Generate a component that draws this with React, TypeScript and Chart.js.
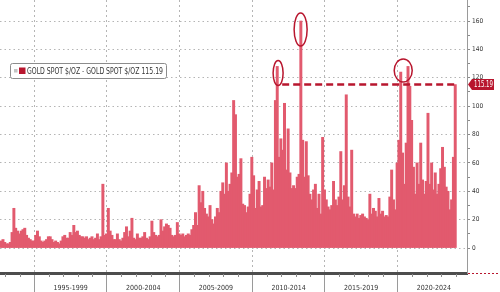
import React, { useEffect, useRef } from 'react';
import { Chart, registerables } from 'chart.js';

Chart.register(...registerables);

const SERIES_NAME = 'GOLD SPOT $/OZ - GOLD SPOT $/OZ';
const START_YEAR = 1992.72;
const STEP_YEARS = 0.125;

const values1992_1994 = [5, 6, 4, 3, 3, 4, 11, 28, 14, 12, 10, 12, 13, 14, 9, 7, 6, 5, 5];
const values1995_1999 = [
  9, 12, 8, 5, 4, 5, 6, 8, 8, 6, 4, 5, 4, 3, 5, 8, 9, 7, 7, 11,
  9, 16, 11, 12, 9, 8, 8, 7, 8, 6, 7, 8, 6, 7, 10, 6, 8, 45, 9, 10,
];
const values2000_2004 = [
  28, 12, 9, 6, 6, 10, 6, 5, 7, 11, 15, 8, 12, 21, 7, 6, 10, 7, 7, 8,
  11, 7, 6, 8, 19, 11, 9, 8, 9, 20, 12, 15, 17, 16, 14, 9, 8, 9, 18, 10,
];
const values2005_2009 = [
  9, 10, 8, 9, 10, 9, 13, 16, 25, 16, 44, 32, 40, 28, 24, 22, 30, 20, 17, 22,
  28, 25, 40, 46, 38, 60, 40, 45, 53, 104, 94, 50, 52, 63, 31, 30, 25, 29, 38, 64,
];
const values2010_2014 = [
  51, 28, 41, 47, 29, 30, 50, 42, 48, 43, 60, 41, 104, 128, 64, 77, 69, 102, 55, 84,
  53, 42, 44, 42, 50, 52, 160, 76, 50, 75, 51, 38, 34, 41, 45, 28, 38, 24, 78, 41,
];
const values2015_2019 = [
  34, 29, 27, 30, 47, 34, 30, 36, 68, 34, 44, 108, 36, 29, 69, 24, 22, 24, 21, 23,
  24, 22, 21, 20, 38, 24, 28, 26, 22, 35, 24, 26, 22, 23, 22, 36, 55, 34, 27, 60,
];
const values2020_2024 = [
  76, 124, 67, 45, 74, 128, 114, 90, 57, 38, 60, 45, 74, 48, 38, 47, 95, 45, 60, 41,
  53, 38, 45, 56, 71, 57, 43, 40, 27, 34, 64, 115.19,
];

const PERIOD_STARTS = [1995, 2000, 2005, 2010, 2015, 2020];
const PERIOD_LABELS = ['1995-1999', '2000-2004', '2005-2009', '2010-2014', '2015-2019', '2020-2024'];
const Y_LABEL_VALUES = [0, 20, 40, 60, 80, 100, 120, 140, 160];
const Y_MINOR_VALUES = [10, 30, 50, 70, 90, 110, 130, 150, 170];

const allValues = [
  ...values1992_1994,
  ...values1995_1999,
  ...values2000_2004,
  ...values2005_2009,
  ...values2010_2014,
  ...values2015_2019,
  ...values2020_2024,
];

// layout / style constants
const X_MIN = 1992.64;
const X_MAX = 2024.78;
const Y_MIN = -17.6;
const Y_MAX = 174.8;
const BAR_COLOR = '#e25a6e';
const DARK_RED = '#b8162e';
const GRID_COLOR = '#b5b5b5';
const TEXT_COLOR = '#333333';
const NARROW_FONT = '"DejaVu Sans Condensed", "Liberation Sans Narrow", "Open Sans", sans-serif';
const LINE_START_YEAR = 2012.06;
const ELLIPSES = [
  { x: 2011.78, y: 123.3, rx: 5, ry: 12.5 },
  { x: 2013.33, y: 154, rx: 6.5, ry: 16.5 },
  { x: 2020.39, y: 125.1, rx: 9, ry: 11.5 },
];

const isBoundary = (v: number) => PERIOD_STARTS.includes(v);

function fitText(ctx: CanvasRenderingContext2D, text: string, x: number, y: number, width: number) {
  const w = ctx.measureText(text).width;
  const sx = w > 0 ? width / w : 1;
  ctx.save();
  ctx.translate(x, y);
  ctx.scale(sx, 1);
  ctx.fillText(text, 0, 0);
  ctx.restore();
}

const overlayPlugin = {
  id: 'overlay',
  afterDatasetsDraw(chart: any) {
    const { ctx, scales } = chart;
    const x = scales.x;
    const y = scales.y;
    const lastVal = allValues[allValues.length - 1];
    const lastYear = START_YEAR + (allValues.length - 1) * STEP_YEARS;
    const ly = y.getPixelForValue(lastVal);
    ctx.save();
    ctx.strokeStyle = DARK_RED;
    ctx.lineWidth = 2.5;
    ctx.setLineDash([7, 4]);
    ctx.beginPath();
    ctx.moveTo(x.getPixelForValue(LINE_START_YEAR), ly);
    ctx.lineTo(x.getPixelForValue(lastYear) + 1, ly);
    ctx.stroke();
    ctx.setLineDash([]);
    ctx.lineWidth = 1.5;
    for (const e of ELLIPSES) {
      ctx.beginPath();
      ctx.ellipse(x.getPixelForValue(e.x), y.getPixelForValue(e.y), e.rx, e.ry, 0, 0, Math.PI * 2);
      ctx.stroke();
    }
    ctx.restore();
  },
  afterDraw(chart: any) {
    const { ctx, scales, chartArea } = chart;
    const x = scales.x;
    const y = scales.y;
    const lastVal = allValues[allValues.length - 1];
    ctx.save();
    // minor yearly ticks under the axis
    ctx.strokeStyle = '#8a8a8a';
    ctx.lineWidth = 1;
    for (let yr = Math.ceil(X_MIN); yr <= Math.floor(X_MAX); yr++) {
      if (isBoundary(yr)) continue;
      const px = Math.round(x.getPixelForValue(yr)) + 0.5;
      ctx.beginPath();
      ctx.moveTo(px, chartArea.bottom + 1);
      ctx.lineTo(px, chartArea.bottom + 4);
      ctx.stroke();
    }
    // red dotted continuation at bottom right
    ctx.strokeStyle = DARK_RED;
    ctx.setLineDash([2, 2]);
    ctx.beginPath();
    ctx.moveTo(chartArea.right + 1, chartArea.bottom + 0.5);
    ctx.lineTo(chart.width, chartArea.bottom + 0.5);
    ctx.stroke();
    ctx.setLineDash([]);

    // value tag on the right axis
    const ty = y.getPixelForValue(lastVal);
    const tx = chartArea.right + 1;
    ctx.fillStyle = DARK_RED;
    ctx.beginPath();
    ctx.moveTo(tx, ty);
    ctx.lineTo(tx + 4, ty - 5.5);
    ctx.lineTo(tx + 26, ty - 5.5);
    ctx.lineTo(tx + 26, ty + 5.5);
    ctx.lineTo(tx + 4, ty + 5.5);
    ctx.closePath();
    ctx.fill();
    ctx.fillStyle = '#ffffff';
    ctx.font = `8px ${NARROW_FONT}`;
    ctx.textBaseline = 'middle';
    ctx.textAlign = 'left';
    fitText(ctx, lastVal.toFixed(2), tx + 6, ty + 0.5, 19);

    // legend box
    const bx = 10.5, by = 63.5, bw = 156, bh = 15;
    ctx.fillStyle = '#ffffff';
    ctx.strokeStyle = '#8c8c8c';
    ctx.lineWidth = 1;
    ctx.beginPath();
    ctx.roundRect(bx, by, bw, bh, 2);
    ctx.fill();
    ctx.stroke();
    ctx.fillStyle = '#c4c4c4';
    ctx.fillRect(14, 69, 3.5, 3.5);
    ctx.fillStyle = DARK_RED;
    ctx.fillRect(19, 67.5, 6.5, 6.5);
    ctx.fillStyle = TEXT_COLOR;
    ctx.font = `8px ${NARROW_FONT}`;
    fitText(ctx, `${SERIES_NAME} ${lastVal.toFixed(2)}`, 27, 71.5, 136);
    ctx.restore();
  },
};

export default function App() {
  const canvasRef = useRef<HTMLCanvasElement | null>(null);

  useEffect(() => {
    document.body.style.margin = '0';
    const canvas = canvasRef.current;
    if (!canvas) return;

    const xTicks: number[] = [];
    PERIOD_STARTS.forEach((s) => {
      xTicks.push(s);
      xTicks.push(s + 2.5);
    });
    const yTicks = [...Y_LABEL_VALUES, ...Y_MINOR_VALUES].sort((a, b) => a - b);

    const chart = new Chart(canvas, {
      type: 'bar',
      data: {
        datasets: [
          {
            label: SERIES_NAME,
            data: allValues.map((v, i) => ({ x: START_YEAR + i * STEP_YEARS, y: v })),
            backgroundColor: BAR_COLOR,
            borderWidth: 0,
            barThickness: 2.3,
          },
        ],
      },
      options: {
        responsive: false,
        animation: false,
        layout: { padding: 0 },
        plugins: {
          legend: { display: false },
          tooltip: { enabled: false },
        },
        scales: {
          x: {
            type: 'linear',
            min: X_MIN,
            max: X_MAX,
            offset: false,
            position: 'bottom',
            afterBuildTicks: (s: any) => {
              s.ticks = xTicks.map((v) => ({ value: v }));
            },
            afterFit: (s: any) => {
              s.height = 19;
              s.paddingLeft = 0;
              s.paddingRight = 0;
            },
            grid: {
              offset: false,
              color: (c: any) => (c.tick && isBoundary(c.tick.value) ? GRID_COLOR : 'rgba(0,0,0,0)'),
              tickColor: (c: any) => (c.tick && isBoundary(c.tick.value) ? '#9a9a9a' : 'rgba(0,0,0,0)'),
              tickLength: 19,
              lineWidth: 1,
            },
            border: { display: true, color: '#4d4d4d', width: 3, dash: [2, 3] },
            ticks: {
              autoSkip: false,
              maxRotation: 0,
              padding: -8,
              color: TEXT_COLOR,
              font: { family: NARROW_FONT, size: 7 },
              callback: (v: any) => {
                const idx = PERIOD_STARTS.indexOf(Number(v) - 2.5);
                return idx >= 0 ? PERIOD_LABELS[idx] : '';
              },
            },
          },
          y: {
            type: 'linear',
            position: 'right',
            min: Y_MIN,
            max: Y_MAX,
            afterBuildTicks: (s: any) => {
              s.ticks = yTicks.map((v) => ({ value: v }));
            },
            afterFit: (s: any) => {
              s.width = 33;
              s.paddingTop = 0;
              s.paddingBottom = 0;
            },
            grid: {
              color: (c: any) => (c.tick && Y_LABEL_VALUES.includes(c.tick.value) ? GRID_COLOR : 'rgba(0,0,0,0)'),
              tickColor: '#8a8a8a',
              tickLength: 3,
              lineWidth: 1,
            },
            border: { display: true, color: '#9a9a9a', width: 1, dash: [1.5, 3] },
            ticks: {
              autoSkip: false,
              padding: 2,
              color: TEXT_COLOR,
              font: { family: NARROW_FONT, size: 6.5 },
              callback: (v: any) => (Y_LABEL_VALUES.includes(Number(v)) ? String(v) : ''),
            },
          },
        },
      },
      plugins: [overlayPlugin],
    } as any);

    return () => {
      chart.destroy();
    };
  }, []);

  return (
    <div style={{ width: 500, height: 292, background: '#ffffff' }}>
      <canvas ref={canvasRef} width={500} height={292} style={{ display: 'block' }} />
    </div>
  );
}
